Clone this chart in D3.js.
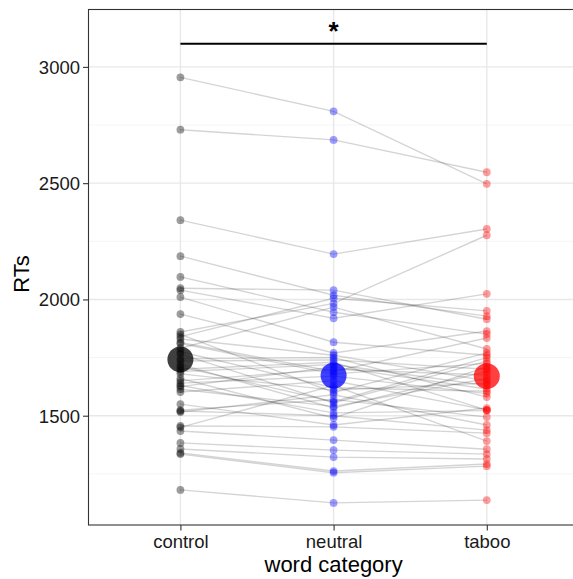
<!DOCTYPE html>
<html><head><meta charset="utf-8">
<script src="https://cdn.jsdelivr.net/npm/d3@7"></script>
<style>html,body{margin:0;padding:0;overflow:hidden;background:#fff;}</style>
</head><body>
<script>
const categories = ["control", "neutral", "taboo"];
const colors = ["#000000", "#0000ff", "#ff0000"];
const control = [2955,2730,2341,2186,2097,2048,2040,2010,1937,1860,1840,1815,1790,1765,1745,1720,1700,1680,1660,1640,1630,1625,1614,1602,1550,1524,1520,1516,1456,1450,1434,1383,1357,1340,1335,1181,1850,1830,1810,1775,1735,1710,1690,1650];
const neutral = [2809,2686,2195,2018,1945,2040,1919,1816,1770,1983,2005,1690,1967,1555,1750,1533,1730,1610,1490,1670,1512,1710,1540,1650,1460,1570,1500,1590,1452,1630,1395,1352,1322,1262,1255,1125,1600,1760,1680,1620,1740,1560,1720,1700];
const taboo   = [2497,2547,2303,1928,1851,1915,2024,1760,1864,2276,1951,1834,1787,1735,1580,1690,1524,1640,1710,1595,1522,1615,1660,1525,1533,1494,1438,1460,1425,1391,1356,1335,1314,1292,1283,1137,1770,1650,1725,1605,1700,1750,1630,1675];
const means = [1742, 1673, 1670];
const yTicks = [1500, 2000, 2500, 3000];
const yMinor = [1250, 1750, 2250, 2750];
const sigY = 3100;

const W = 580, H = 579;
const svg = d3.select("body").append("svg").attr("width", W).attr("height", H)
  .style("font-family", "'Liberation Sans', Arial, Helvetica, sans-serif");
const L = 88.5, R = 578.7, T = 9.5, B = 525;
const x = d3.scalePoint().domain(categories).range([L, R]).padding(0.6);
const y = d3.scaleLinear().domain([1030, 3246.8]).range([B, T]);

const g = svg.append("g");
// grid
g.selectAll(".ymin").data(yMinor).join("line")
  .attr("x1", L).attr("x2", R).attr("y1", d => y(d)).attr("y2", d => y(d))
  .attr("stroke", "#f2f2f2").attr("stroke-width", 0.8);
g.selectAll(".ymaj").data(yTicks).join("line")
  .attr("x1", L).attr("x2", R).attr("y1", d => y(d)).attr("y2", d => y(d))
  .attr("stroke", "#e8e8e8").attr("stroke-width", 1.4);
g.selectAll(".xmaj").data(categories).join("line")
  .attr("x1", d => x(d)).attr("x2", d => x(d)).attr("y1", T).attr("y2", B)
  .attr("stroke", "#e8e8e8").attr("stroke-width", 1.4);

// subject lines
const series = [control, neutral, taboo];
const subjects = control.map((_, i) => series.map((s, k) => [categories[k], s[i]]));
const line = d3.line().x(d => x(d[0])).y(d => y(d[1]));
g.selectAll(".subj").data(subjects).join("path")
  .attr("d", line).attr("fill", "none")
  .attr("stroke", "#000").attr("stroke-opacity", 0.17).attr("stroke-width", 1.4);

// points
series.forEach((s, k) => {
  g.selectAll(".pt" + k).data(s).join("circle")
    .attr("cx", x(categories[k])).attr("cy", d => y(d)).attr("r", 3.9)
    .attr("fill", colors[k]).attr("fill-opacity", 0.38);
});
// means
g.selectAll(".mean").data(means).join("circle")
  .attr("cx", (d, i) => x(categories[i])).attr("cy", d => y(d)).attr("r", 13)
  .attr("fill", (d, i) => colors[i]).attr("fill-opacity", 0.75);

// significance
g.append("line").attr("x1", x("control")).attr("x2", x("taboo"))
  .attr("y1", y(sigY)).attr("y2", y(sigY)).attr("stroke", "#000").attr("stroke-width", 2);
g.append("text").attr("x", x("neutral")).attr("y", y(sigY) - 4)
  .attr("text-anchor", "middle").attr("font-size", 26).attr("font-weight", "bold").text("*");

// border
g.append("rect").attr("x", L).attr("y", T).attr("width", R - L).attr("height", B - T)
  .attr("fill", "none").attr("stroke", "#333").attr("stroke-width", 1.1);

// axes
const yAxis = svg.append("g").attr("transform", `translate(${L},0)`)
  .call(d3.axisLeft(y).tickValues(yTicks).tickSize(5.5).tickPadding(3).tickFormat(d3.format("d")));
yAxis.select(".domain").remove();
yAxis.selectAll("line").attr("stroke", "#333").attr("stroke-width", 1.1);
yAxis.selectAll("text").attr("font-size", 18.5).attr("fill", "#1a1a1a")
  .attr("font-family", "'Liberation Sans', Arial, sans-serif").attr("dy", "0.35em");

const xAxis = svg.append("g").attr("transform", `translate(0,${B})`)
  .call(d3.axisBottom(x).tickSize(5.5).tickPadding(4));
xAxis.select(".domain").remove();
xAxis.selectAll("line").attr("stroke", "#333").attr("stroke-width", 1.1);
xAxis.selectAll("text").attr("font-size", 18.5).attr("fill", "#1a1a1a")
  .attr("font-family", "'Liberation Sans', Arial, sans-serif");

svg.append("text").attr("x", x("neutral")).attr("y", 572)
  .attr("text-anchor", "middle").attr("font-size", 22).attr("fill", "#000").text("word category");
svg.append("text").attr("transform", `translate(29,274) rotate(-90)`)
  .attr("text-anchor", "middle").attr("font-size", 22).attr("fill", "#000").text("RTs");
</script>
</body></html>
